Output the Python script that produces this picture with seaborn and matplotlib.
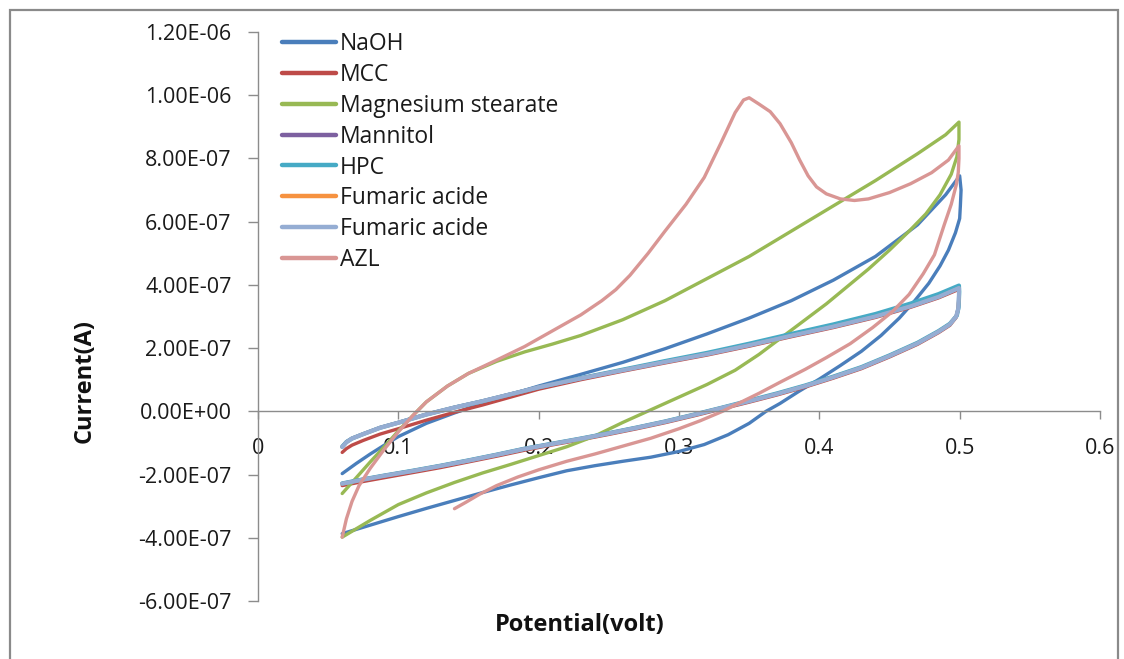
import matplotlib
matplotlib.use("Agg")
import matplotlib.pyplot as plt
import matplotlib.ticker as mticker
from matplotlib.patches import Rectangle
import seaborn as sns
import pandas as pd

# ---------------- data (potential in V, current in units of 1e-7 A) ----------------
CURRENT_UNIT = 1e-7

series_names = ["NaOH", "MCC", "Magnesium stearate", "Mannitol", "HPC",
                "Fumaric acide", "Fumaric acide", "AZL"]
series_colors = ["#4A7EBB", "#BE4B48", "#98B954", "#7D60A0", "#46AAC5",
                 "#F69240", "#95ADD3", "#D99694"]
series_widths = [2.4, 2.4, 2.4, 2.4, 3.0, 2.4, 3.0, 2.4]

naoh_x = [0.060, 0.070, 0.080, 0.090, 0.100, 0.120, 0.140, 0.160, 0.180, 0.200, 0.230, 0.260, 0.290, 0.320,
          0.350, 0.380, 0.410, 0.440, 0.470, 0.490, 0.500,
          0.501, 0.5005, 0.500, 0.497, 0.492, 0.486, 0.478, 0.468, 0.457, 0.444, 0.430, 0.415, 0.400, 0.385,
          0.372, 0.362, 0.350, 0.335, 0.318, 0.300, 0.280, 0.260, 0.240, 0.220, 0.200, 0.180, 0.160, 0.140,
          0.120, 0.100, 0.080, 0.060]
naoh_y = [-1.97, -1.65, -1.35, -1.07, -0.80, -0.38, -0.05, 0.25, 0.53, 0.80, 1.17, 1.55, 1.98, 2.45,
          2.95, 3.50, 4.15, 4.90, 5.90, 6.85, 7.45,
          7.00, 6.50, 6.10, 5.65, 5.10, 4.60, 4.05, 3.50, 2.95, 2.40, 1.90, 1.45, 1.02, 0.62,
          0.25, 0.00, -0.38, -0.74, -1.05, -1.27, -1.45, -1.58, -1.72, -1.88, -2.10, -2.33, -2.57, -2.82,
          -3.07, -3.33, -3.60, -3.87]

mcc_x = [0.060, 0.063, 0.067, 0.075, 0.087, 0.100, 0.120, 0.140, 0.160, 0.180, 0.200, 0.230, 0.260, 0.290,
         0.320, 0.350, 0.380, 0.410, 0.440, 0.465, 0.485, 0.4995,
         0.4995, 0.499, 0.4975, 0.493, 0.485, 0.470, 0.450, 0.430, 0.410, 0.390, 0.370, 0.350, 0.330, 0.310,
         0.290, 0.270, 0.250, 0.230, 0.210, 0.190, 0.170, 0.150, 0.130, 0.110, 0.090, 0.075, 0.060]
mcc_y = [-1.30, -1.18, -1.07, -0.92, -0.72, -0.55, -0.28, -0.03, 0.20, 0.45, 0.70, 1.00, 1.27, 1.53,
         1.78, 2.06, 2.36, 2.65, 2.97, 3.29, 3.59, 3.86,
         3.66, 3.22, 2.97, 2.72, 2.49, 2.12, 1.72, 1.35, 1.05, 0.77, 0.52, 0.29, 0.07, -0.15,
         -0.36, -0.55, -0.73, -0.90, -1.06, -1.23, -1.42, -1.60, -1.78, -1.94, -2.10, -2.22, -2.35]

mg_x = [0.060, 0.070, 0.080, 0.090, 0.100, 0.110, 0.120, 0.135, 0.150, 0.170, 0.190, 0.210, 0.230, 0.260,
        0.290, 0.320, 0.350, 0.380, 0.410, 0.440, 0.470, 0.490, 0.4995,
        0.4995, 0.498, 0.494, 0.486, 0.476, 0.464, 0.450, 0.435, 0.420, 0.405, 0.390, 0.375, 0.357, 0.340,
        0.320, 0.300, 0.280, 0.260, 0.240, 0.220, 0.200, 0.180, 0.160, 0.140, 0.120, 0.100, 0.080, 0.060]
mg_y = [-2.60, -2.10, -1.60, -1.12, -0.62, -0.15, 0.30, 0.80, 1.20, 1.58, 1.88, 2.13, 2.40, 2.90,
        3.50, 4.20, 4.90, 5.70, 6.50, 7.30, 8.15, 8.75, 9.15,
        8.60, 8.05, 7.50, 6.85, 6.25, 5.70, 5.10, 4.50, 3.95, 3.40, 2.90, 2.40, 1.80, 1.30,
        0.85, 0.45, 0.05, -0.35, -0.78, -1.12, -1.40, -1.68, -1.95, -2.25, -2.58, -2.95, -3.45, -3.98]

mannitol_x = [0.060, 0.063, 0.067, 0.075, 0.087, 0.100, 0.120, 0.140, 0.160, 0.180, 0.200, 0.230, 0.260, 0.290,
              0.320, 0.350, 0.380, 0.410, 0.440, 0.465, 0.485, 0.4995,
              0.4995, 0.499, 0.4975, 0.493, 0.485, 0.470, 0.450, 0.430, 0.410, 0.390, 0.370, 0.350, 0.330, 0.310,
              0.290, 0.270, 0.250, 0.230, 0.210, 0.190, 0.170, 0.150, 0.130, 0.110, 0.090, 0.075, 0.060]
mannitol_y = [-1.11, -0.96, -0.85, -0.71, -0.51, -0.35, -0.09, 0.13, 0.33, 0.55, 0.77, 1.05, 1.31, 1.57,
              1.82, 2.10, 2.40, 2.69, 3.01, 3.33, 3.63, 3.91,
              3.71, 3.26, 3.01, 2.76, 2.53, 2.16, 1.76, 1.39, 1.09, 0.81, 0.56, 0.33, 0.11, -0.11,
              -0.32, -0.51, -0.69, -0.86, -1.02, -1.18, -1.37, -1.55, -1.72, -1.88, -2.03, -2.15, -2.28]

hpc_x = [0.060, 0.063, 0.067, 0.075, 0.087, 0.100, 0.120, 0.140, 0.160, 0.180, 0.200, 0.230, 0.260, 0.290,
         0.320, 0.350, 0.380, 0.410, 0.440, 0.465, 0.485, 0.4995,
         0.4997, 0.4993, 0.498, 0.493, 0.485, 0.470, 0.450, 0.430, 0.410, 0.390, 0.370, 0.350, 0.330, 0.310,
         0.290, 0.270, 0.250, 0.230, 0.210, 0.190, 0.170, 0.150, 0.130, 0.110, 0.090, 0.075, 0.060]
hpc_y = [-1.12, -0.97, -0.86, -0.72, -0.52, -0.36, -0.10, 0.12, 0.32, 0.54, 0.76, 1.05, 1.32, 1.59,
         1.85, 2.14, 2.45, 2.75, 3.08, 3.41, 3.71, 3.98,
         3.78, 3.30, 3.03, 2.77, 2.54, 2.17, 1.77, 1.40, 1.10, 0.82, 0.57, 0.34, 0.11, -0.11,
         -0.32, -0.51, -0.69, -0.86, -1.02, -1.18, -1.37, -1.55, -1.72, -1.88, -2.03, -2.15, -2.28]

fumaric1_x = [0.060, 0.063, 0.067, 0.075, 0.087, 0.100, 0.120, 0.140, 0.160, 0.180, 0.200, 0.230, 0.260, 0.290,
              0.320, 0.350, 0.380, 0.410, 0.440, 0.465, 0.485, 0.4995,
              0.4995, 0.499, 0.4975, 0.493, 0.485, 0.470, 0.450, 0.430, 0.410, 0.390, 0.370, 0.350, 0.330, 0.310,
              0.290, 0.270, 0.250, 0.230, 0.210, 0.190, 0.170, 0.150, 0.130, 0.110, 0.090, 0.075, 0.060]
fumaric1_y = [-1.13, -0.98, -0.86, -0.72, -0.52, -0.36, -0.10, 0.12, 0.32, 0.54, 0.76, 1.04, 1.30, 1.56,
              1.81, 2.09, 2.39, 2.68, 3.00, 3.32, 3.62, 3.90,
              3.70, 3.25, 3.00, 2.75, 2.52, 2.15, 1.75, 1.38, 1.08, 0.80, 0.55, 0.32, 0.10, -0.12,
              -0.33, -0.52, -0.70, -0.87, -1.03, -1.19, -1.38, -1.56, -1.73, -1.89, -2.04, -2.16, -2.29]

fumaric2_x = [0.060, 0.063, 0.067, 0.075, 0.087, 0.100, 0.120, 0.140, 0.160, 0.180, 0.200, 0.230, 0.260, 0.290,
              0.320, 0.350, 0.380, 0.410, 0.440, 0.465, 0.485, 0.4995,
              0.4995, 0.499, 0.4975, 0.493, 0.485, 0.470, 0.450, 0.430, 0.410, 0.390, 0.370, 0.350, 0.330, 0.310,
              0.290, 0.270, 0.250, 0.230, 0.210, 0.190, 0.170, 0.150, 0.130, 0.110, 0.090, 0.075, 0.060]
fumaric2_y = [-1.13, -0.98, -0.86, -0.72, -0.52, -0.36, -0.10, 0.12, 0.32, 0.54, 0.76, 1.04, 1.30, 1.56,
              1.81, 2.09, 2.39, 2.68, 3.00, 3.32, 3.62, 3.90,
              3.70, 3.25, 3.00, 2.75, 2.52, 2.15, 1.75, 1.38, 1.08, 0.80, 0.55, 0.32, 0.10, -0.12,
              -0.33, -0.52, -0.70, -0.87, -1.03, -1.19, -1.38, -1.56, -1.73, -1.89, -2.04, -2.16, -2.29]

azl_x = [0.060, 0.063, 0.067, 0.072, 0.080, 0.090, 0.100, 0.110, 0.120, 0.135, 0.150, 0.170, 0.190, 0.210,
         0.230, 0.245, 0.255, 0.265, 0.278, 0.290, 0.305, 0.318, 0.330, 0.340, 0.346, 0.350, 0.357, 0.365,
         0.372, 0.380, 0.386, 0.392, 0.398, 0.405, 0.415, 0.425, 0.435, 0.450, 0.465, 0.480, 0.492, 0.4995,
         0.4995, 0.499, 0.4975, 0.494, 0.489, 0.482, 0.474, 0.464, 0.452, 0.438, 0.422, 0.405, 0.390, 0.372,
         0.357, 0.340, 0.331, 0.315, 0.300, 0.280, 0.260, 0.240, 0.220, 0.200, 0.185, 0.170, 0.158, 0.148,
         0.140]
azl_y = [-3.98, -3.40, -2.85, -2.35, -1.80, -1.20, -0.65, -0.15, 0.30, 0.80, 1.20, 1.62, 2.05, 2.55,
         3.05, 3.50, 3.85, 4.30, 5.00, 5.70, 6.55, 7.40, 8.50, 9.45, 9.85, 9.92, 9.72, 9.48,
         9.10, 8.50, 7.95, 7.45, 7.10, 6.88, 6.72, 6.67, 6.72, 6.92, 7.20, 7.55, 7.95, 8.40,
         8.00, 7.55, 7.15, 6.55, 5.90, 4.95, 4.35, 3.70, 3.15, 2.65, 2.14, 1.70, 1.33, 0.92,
         0.57, 0.20, 0.00, -0.30, -0.55, -0.85, -1.10, -1.35, -1.58, -1.85, -2.08, -2.35, -2.62, -2.88,
         -3.08]

series_x = [naoh_x, mcc_x, mg_x, mannitol_x, hpc_x, fumaric1_x, fumaric2_x, azl_x]
series_y = [naoh_y, mcc_y, mg_y, mannitol_y, hpc_y, fumaric1_y, fumaric2_y, azl_y]

x_ticks = [0, 0.1, 0.2, 0.3, 0.4, 0.5, 0.6]
y_ticks = [-6e-7, -4e-7, -2e-7, 0, 2e-7, 4e-7, 6e-7, 8e-7, 1e-6, 1.2e-6]

# ---------------- figure ----------------
sns.set_style("white")
plt.rcParams["font.family"] = ["Open Sans", "DejaVu Sans"]

W, H = 1124, 659
fig = plt.figure(figsize=(W / 100, H / 100), dpi=100)
ax = fig.add_axes([258 / W, 1 - 601 / H, (1100 - 258) / W, (601 - 32) / H])

for i, name in enumerate(series_names):
    df = pd.DataFrame({"Potential": series_x[i],
                       "Current": [v * CURRENT_UNIT for v in series_y[i]]})
    sns.lineplot(data=df, x="Potential", y="Current", sort=False, estimator=None,
                 color=series_colors[i], linewidth=series_widths[i], label=name, ax=ax,
                 solid_joinstyle="round", solid_capstyle="round")

ax.set_xlim(0, 0.6)
ax.set_ylim(-6e-7, 1.2e-6)
ax.set_xticks(x_ticks)
ax.set_yticks(y_ticks)
ax.xaxis.set_major_formatter(mticker.FuncFormatter(lambda v, p: f"{v:g}"))
ax.yaxis.set_major_formatter(mticker.FuncFormatter(lambda v, p: f"{v:.2E}"))

axis_gray = "#8C8C8C"
for s in ["top", "right"]:
    ax.spines[s].set_visible(False)
ax.spines["bottom"].set_position(("data", 0))
ax.spines["bottom"].set_color(axis_gray)
ax.spines["left"].set_color(axis_gray)
ax.spines["bottom"].set_linewidth(1.0)
ax.spines["left"].set_linewidth(1.0)
ax.tick_params(axis="x", direction="out", length=6, width=1, color=axis_gray,
               pad=13, labelsize=15.5, labelcolor="#1a1a1a")
ax.tick_params(axis="y", direction="out", length=7, width=1, color=axis_gray,
               pad=12, labelsize=15.5, labelcolor="#1a1a1a")
ax.xaxis.set_ticks_position("bottom")
ax.yaxis.set_ticks_position("left")

ax.set_xlabel("")
ax.set_ylabel("")
fig.text(580 / W, 1 - 625 / H, "Potential(volt)", ha="center", va="center",
         fontsize=17, fontweight="bold", color="#111111")
fig.text(85 / W, 1 - 381 / H, "Current(A)", ha="center", va="center", rotation=90,
         fontsize=17, fontweight="bold", color="#111111")

handles, labels = ax.get_legend_handles_labels()
leg = ax.legend(handles, labels, loc="upper left",
                bbox_to_anchor=((282 - 258) / 842, 1.0), frameon=False,
                fontsize=16.5, handlelength=2.35, handletextpad=0.17,
                labelspacing=0.30, borderpad=0, borderaxespad=0)
for t in leg.get_texts():
    t.set_color("#1a1a1a")
for h in leg.get_lines():
    h.set_linewidth(3.2)

fig.patches.append(Rectangle((10 / W, -0.02), (1118 - 10) / W, 1.02 - 10 / H,
                             transform=fig.transFigure, fill=False,
                             edgecolor="#8A8A8A", linewidth=1.6))

fig.savefig("out.png", dpi=100, facecolor="white")
